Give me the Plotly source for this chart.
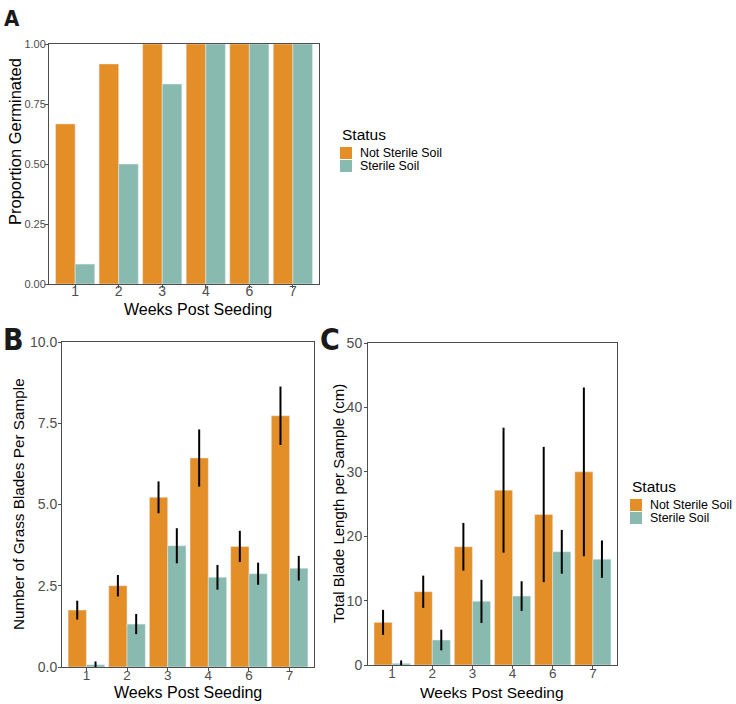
import plotly.graph_objects as go

weeks = ["1", "2", "3", "4", "6", "7"]
status_labels = ["Not Sterile Soil", "Sterile Soil"]

# Panel A: proportion germinated
prop_not_sterile = [0.667, 0.917, 1.0, 1.0, 1.0, 1.0]
prop_sterile = [0.083, 0.5, 0.833, 1.0, 1.0, 1.0]

# Panel B: number of grass blades per sample (mean, error)
blades_not_sterile = [1.75, 2.50, 5.22, 6.43, 3.71, 7.73]
blades_not_sterile_err = [0.29, 0.33, 0.49, 0.88, 0.48, 0.90]
blades_sterile = [0.07, 1.32, 3.73, 2.76, 2.87, 3.04]
blades_sterile_err = [0.10, 0.31, 0.54, 0.38, 0.34, 0.38]

# Panel C: total blade length per sample (cm)
length_not_sterile = [6.62, 11.38, 18.36, 27.15, 23.37, 29.99]
length_not_sterile_err = [1.94, 2.50, 3.70, 9.70, 10.50, 13.10]
length_sterile = [0.26, 3.88, 9.88, 10.70, 17.58, 16.44]
length_sterile_err = [0.45, 1.60, 3.35, 2.30, 3.40, 2.90]

ORANGE = "#E38E27"
TEAL = "#88BAB0"
COLORS = [ORANGE, TEAL]
FONT = "Liberation Sans, Arial, sans-serif"
LETTER_FONT = "Liberation Sans Narrow, DejaVu Sans Condensed, DejaVu Sans, sans-serif"
W, H = 736, 704


def px_x(x):
    return x / W


def px_y(y):
    return 1 - y / H


fig = go.Figure()
err_style = dict(type="data", color="black", thickness=2, width=0, visible=True)

# Panel A
fig.add_trace(go.Bar(x=weeks, y=prop_not_sterile, name=status_labels[0], marker_color=ORANGE,
                     xaxis="x", yaxis="y"))
fig.add_trace(go.Bar(x=weeks, y=prop_sterile, name=status_labels[1], marker_color=TEAL,
                     xaxis="x", yaxis="y"))
# Panel B
fig.add_trace(go.Bar(x=weeks, y=blades_not_sterile, name=status_labels[0], marker_color=ORANGE,
                     error_y=dict(array=blades_not_sterile_err, **err_style),
                     xaxis="x2", yaxis="y2"))
fig.add_trace(go.Bar(x=weeks, y=blades_sterile, name=status_labels[1], marker_color=TEAL,
                     error_y=dict(array=blades_sterile_err, **err_style),
                     xaxis="x2", yaxis="y2"))
# Panel C
fig.add_trace(go.Bar(x=weeks, y=length_not_sterile, name=status_labels[0], marker_color=ORANGE,
                     error_y=dict(array=length_not_sterile_err, **err_style),
                     xaxis="x3", yaxis="y3"))
fig.add_trace(go.Bar(x=weeks, y=length_sterile, name=status_labels[1], marker_color=TEAL,
                     error_y=dict(array=length_sterile_err, **err_style),
                     xaxis="x3", yaxis="y3"))

axis_common = dict(showline=True, mirror=True, linecolor="#4D4D4D", linewidth=1,
                   ticks="outside", ticklen=3, tickcolor="#4D4D4D", showgrid=False,
                   zeroline=False)


def xax(domain, anchor, tick_size, standoff):
    return dict(domain=domain, anchor=anchor, type="category", range=[-0.6, 5.6],
                tickfont=dict(family=FONT, size=tick_size, color="#4D4D4D"),
                ticklabelstandoff=standoff, **axis_common)


def yax(domain, anchor, rng, dtick, fmt, tick_size, standoff):
    return dict(domain=domain, anchor=anchor, range=rng, dtick=dtick, tick0=0, tickformat=fmt,
                tickfont=dict(family=FONT, size=tick_size, color="#4D4D4D"),
                ticklabelstandoff=standoff, **axis_common)


annotations = []


def text_ann(text, x, y, size, angle=0, xanchor="center", family=FONT, color="black"):
    annotations.append(dict(text=text, x=px_x(x), y=px_y(y), xref="paper", yref="paper",
                            xanchor=xanchor, yanchor="middle", textangle=angle, showarrow=False,
                            font=dict(family=family, size=size, color=color)))


# axis titles
text_ann("Proportion Germinated", 15, 142, 16.5, angle=-90)
text_ann("Weeks Post Seeding", 198, 309, 16)
text_ann("Number of Grass Blades Per Sample", 18, 504, 15.3, angle=-90)
text_ann("Weeks Post Seeding", 188, 692, 16)
text_ann("Total Blade Length per Sample (cm)", 338, 504, 15, angle=-90)
text_ann("Weeks Post Seeding", 492, 692, 15.5)

# panel letters
annotations.append(dict(text="<b>A</b>", x=px_x(2), y=px_y(4), xref="paper", yref="paper",
                        xanchor="left", yanchor="top", showarrow=False,
                        font=dict(family=LETTER_FONT, size=22, color="#1a1a1a")))
annotations.append(dict(text="<b>B</b>", x=px_x(1), y=px_y(320), xref="paper", yref="paper",
                        xanchor="left", yanchor="top", showarrow=False,
                        font=dict(family=LETTER_FONT, size=30, color="#1a1a1a")))
annotations.append(dict(text="<b>C</b>", x=px_x(318), y=px_y(320), xref="paper", yref="paper",
                        xanchor="left", yanchor="top", showarrow=False,
                        font=dict(family=LETTER_FONT, size=30, color="#1a1a1a")))

# legends (title + keys), drawn as paper-anchored guides
shapes = []


def legend_block(x0, title_y, key_top, key_h, key_w, text_x):
    text_ann("Status", x0, title_y, 15.5, xanchor="left")
    for i, (lab, col) in enumerate(zip(status_labels, COLORS)):
        top = key_top + i * (key_h + 1)
        shapes.append(dict(type="rect", xref="paper", yref="paper",
                           x0=px_x(x0), x1=px_x(x0 + key_w), y0=px_y(top + key_h), y1=px_y(top),
                           fillcolor=col, line=dict(width=0)))
        text_ann(lab, text_x, top + key_h / 2, 12.4, xanchor="left")


legend_block(340, 134.5, 147, 12, 12, 358)
legend_block(630, 486.5, 499, 12, 12, 648)

fig.update_layout(
    width=W, height=H,
    margin=dict(l=0, r=0, t=0, b=0, autoexpand=False),
    paper_bgcolor="white", plot_bgcolor="white",
    barmode="group", bargap=0.1, bargroupgap=0.0,
    font=dict(family=FONT),
    showlegend=False,
    xaxis=xax([px_x(49), px_x(319)], "y", 14, -9),
    yaxis=yax([px_y(284), px_y(44)], "x", [0, 1], 0.25, ".2f", 11, -3),
    xaxis2=xax([px_x(62), px_x(314)], "y2", 13.5, -7),
    yaxis2=yax([px_y(667), px_y(342)], "x2", [0, 10], 2.5, ".1f", 14, -2),
    xaxis3=xax([px_x(368), px_x(617)], "y3", 13.5, -7),
    yaxis3=yax([px_y(665), px_y(343)], "x3", [0, 50], 10, "d", 14, -1),
    annotations=annotations,
    shapes=shapes,
)

fig.write_html("out.html")
